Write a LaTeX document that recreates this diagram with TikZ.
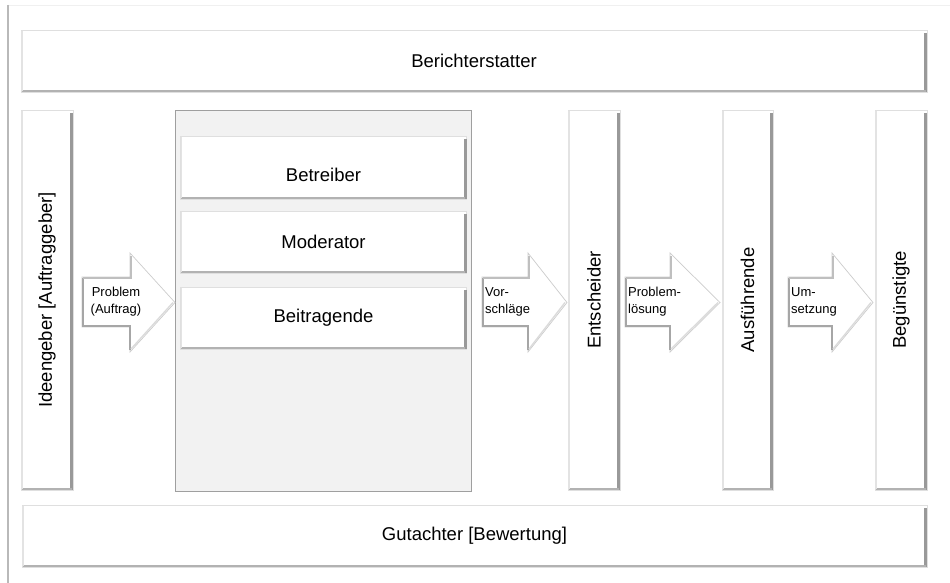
\documentclass[tikz,border=0pt]{standalone}
\usepackage{fontspec}
\setmainfont{Liberation Sans}
\begin{document}
\begin{tikzpicture}[x=1pt,y=-1pt,
  bevel/.style={draw=gray!25, line width=0.6pt, fill=white, inner sep=0pt, outer sep=0pt,
    font=\fontsize{18.5}{20}\selectfont,
    append after command={
      ([xshift=-1.3pt,yshift=-3pt]\tikzlastnode.north east) edge[draw=gray!80, line width=2.6pt] ([xshift=-1.3pt,yshift=0.3pt]\tikzlastnode.south east)
      ([xshift=0.8pt,yshift=1.1pt]\tikzlastnode.south west) edge[draw=gray!60, line width=2pt] ([xshift=-1.3pt,yshift=1.1pt]\tikzlastnode.south east)
      ([xshift=0.8pt,yshift=-1pt]\tikzlastnode.north west) edge[draw=gray!22, line width=1.4pt] ([xshift=0.8pt,yshift=1pt]\tikzlastnode.south west)
    }},
  container/.style={draw=gray!75, line width=0.8pt, fill=gray!10, inner sep=0pt, outer sep=0pt},
  vlabel/.style={rotate=90, font=\fontsize{18.5}{20}\selectfont, inner sep=0pt},
  hlabel/.style={font=\fontsize{18.5}{20}\selectfont, inner sep=0pt},
  arrowbody/.style={draw=gray!40, line width=0.7pt, fill=white, line join=miter},
  arrowshade/.style={draw=gray!70, line width=2pt},
  alabel/.style={font=\fontsize{13}{17}\selectfont, align=left, inner sep=0pt, anchor=west}
]
\useasboundingbox (0,0) rectangle (950,583);
\fill[white] (0,0) rectangle (950,583);
% outer frame
\draw[gray!12, line width=1.2pt] (8,5.5) -- (950,5.5);
\draw[gray!55, line width=1.6pt] (8,5) -- (8,583);

% top and bottom bars
\node[bevel, minimum width=906pt, minimum height=62pt] (bericht) at (474,61) {Berichterstatter};
\node[bevel, minimum width=905pt, minimum height=62pt] (gutachter) at (474.5,536) {Gutachter [Bewertung]};

% container
\node[container, minimum width=296pt, minimum height=381pt] (gruppe) at (323,300.5) {};
\node[bevel, minimum width=286pt, minimum height=63pt] (betreiber) at (323.5,167.5) {};
\node[hlabel] (betreiberT) at (323.5,175) {Betreiber};
\node[bevel, minimum width=286pt, minimum height=62pt] (moderator) at (323.5,242) {Moderator};
\node[bevel, minimum width=286pt, minimum height=62pt] (beitragende) at (323.5,318) {Beitragende};

% vertical boxes
\node[bevel, minimum width=52pt, minimum height=380pt] (ideen) at (47,300) {};
\node[vlabel] (ideenT) at (ideen) {Ideengeber [Auftraggeber]};
\node[bevel, minimum width=52pt, minimum height=380pt] (entsch) at (594,300) {};
\node[vlabel] (entschT) at (entsch) {Entscheider};
\node[bevel, minimum width=51pt, minimum height=380pt] (ausf) at (747.5,300) {};
\node[vlabel] (ausfT) at (ausf) {Ausführende};
\node[bevel, minimum width=52pt, minimum height=380pt] (beg) at (901,300) {};
\node[vlabel] (begT) at (beg) {Begünstigte};

% arrows
\foreach \t/\b/\p in {82/130/175, 482/528/567, 625/670/720, 788/832/873}{
  \draw[arrowbody] (\t,277) -- (\b,277) -- (\b,253) -- (\p,302.5) -- (\b,352) -- (\b,327) -- (\t,327) -- cycle;
  \draw[arrowshade] (\t+1,278) -- (\t+1,326) -- (\b-0.5,326) -- (\b-0.5,350);
  \draw[draw=gray!50, line width=1.3pt] (\t+1,278) -- (\b+1,278) -- (\b+1,256);
  \draw[draw=gray!28, line width=1.4pt] (\b+1,349) -- (\p-2,302.5);
}
\node[alabel, align=center, anchor=center] (t1) at (116,302) {Problem\\(Auftrag)};
\node[alabel] (t2) at (485,302) {Vor-\\schläge};
\node[alabel] (t3) at (628,302) {Problem-\\lösung};
\node[alabel] (t4) at (791,302) {Um-\\setzung};
\end{tikzpicture}
\end{document}
